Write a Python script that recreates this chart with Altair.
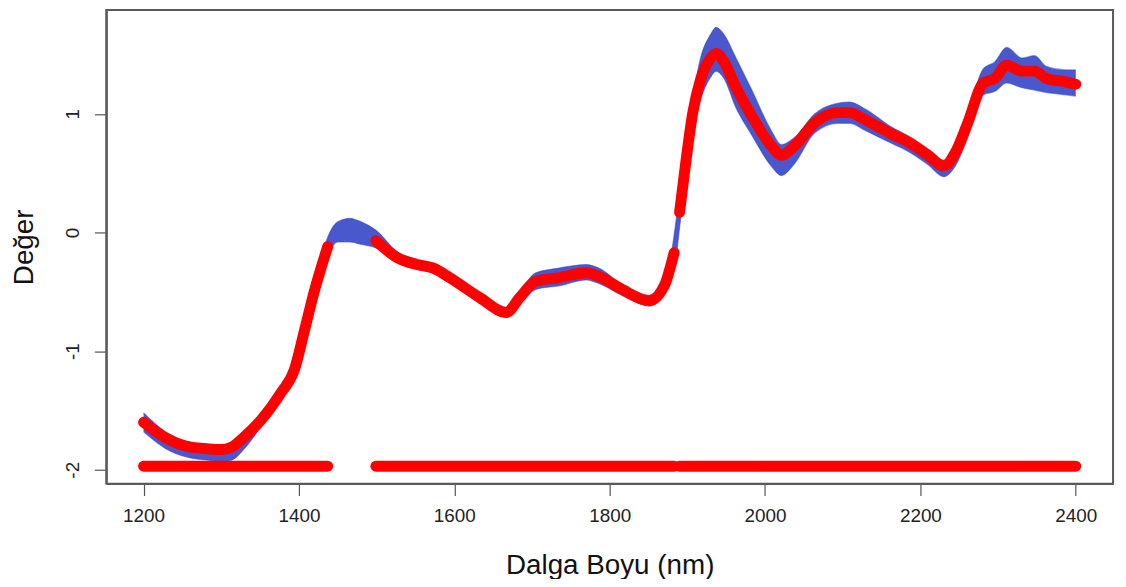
import altair as alt
import pandas as pd

# Wavelengths (nm) at which the curves were read
wavelength = [1200, 1228, 1254, 1284, 1300, 1313, 1330, 1352, 1377, 1394, 1407, 1420, 1437,
              1450, 1465, 1480, 1499, 1526, 1552, 1573, 1594, 1633, 1667, 1684, 1705, 1735,
              1770, 1786, 1816, 1851, 1871, 1879, 1883, 1890, 1897, 1907, 1917, 1930, 1937,
              1947, 1962, 1983, 2008, 2021, 2038, 2064, 2094, 2109, 2129, 2160, 2185, 2210,
              2230, 2245, 2261, 2281, 2296, 2311, 2331, 2347, 2362, 2387, 2400]

# Mean spectrum (red)
mean_value = [-1.60, -1.73, -1.80, -1.825, -1.83, -1.81, -1.72, -1.575, -1.35, -1.16, -0.83, -0.49, -0.12,
              0.00, 0.03, -0.01, -0.07, -0.21, -0.27, -0.30, -0.38, -0.55, -0.675, -0.55, -0.41, -0.38,
              -0.34, -0.37, -0.48, -0.575, -0.44, -0.27, -0.17, 0.17, 0.54, 1.01, 1.29, 1.47, 1.51,
              1.44, 1.23, 0.98, 0.73, 0.65, 0.73, 0.925, 1.01, 1.01, 0.95, 0.84, 0.76, 0.65,
              0.56, 0.675, 0.925, 1.26, 1.30, 1.41, 1.36, 1.36, 1.30, 1.27, 1.25]

# Upper and lower envelopes of the individual spectra (blue)
upper_value = [-1.52, -1.68, -1.76, -1.79, -1.80, -1.78, -1.68, -1.54, -1.32, -1.13, -0.79, -0.45, -0.04,
               0.09, 0.12, 0.09, 0.02, -0.16, -0.23, -0.26, -0.34, -0.51, -0.64, -0.50, -0.34, -0.30,
               -0.27, -0.30, -0.44, -0.53, -0.41, -0.20, -0.02, 0.32, 0.62, 1.12, 1.47, 1.67, 1.73,
               1.67, 1.48, 1.20, 0.86, 0.74, 0.80, 1.00, 1.09, 1.10, 1.04, 0.90, 0.81, 0.70,
               0.61, 0.72, 1.00, 1.38, 1.44, 1.56, 1.47, 1.49, 1.40, 1.37, 1.37]
lower_value = [-1.68, -1.82, -1.89, -1.92, -1.93, -1.92, -1.82, -1.63, -1.40, -1.20, -0.87, -0.54, -0.19,
               -0.08, -0.08, -0.10, -0.13, -0.25, -0.31, -0.34, -0.42, -0.59, -0.71, -0.60, -0.48, -0.45,
               -0.40, -0.43, -0.53, -0.62, -0.49, -0.30, -0.30, 0.04, 0.42, 0.86, 1.12, 1.31, 1.36,
               1.30, 1.06, 0.82, 0.56, 0.48, 0.58, 0.84, 0.92, 0.92, 0.86, 0.76, 0.68, 0.57,
               0.47, 0.56, 0.80, 1.16, 1.19, 1.26, 1.22, 1.20, 1.18, 1.16, 1.15]

# Selected wavelength ranges (red)
range_start = [1200, 1499, 1890]
range_end = [1437, 1883, 2400]
baseline_y = -1.97

x_ticks = [1200, 1400, 1600, 1800, 2000, 2200, 2400]
y_ticks = [-2, -1, 0, 1]

df = pd.DataFrame({"wl": wavelength, "mean": mean_value, "upper": upper_value, "lower": lower_value})
parts = []
for i, (a, b) in enumerate(zip(range_start, range_end)):
    sub = df[(df["wl"] >= a) & (df["wl"] <= b)].copy()
    sub["seg"] = i
    parts.append(sub)
red_df = pd.concat(parts)
bottom_df = pd.DataFrame({"start": range_start, "end": range_end, "y": [baseline_y] * len(range_start)})

FONT = "Liberation Sans"
FRAME = "#5a5a5a"
xs = alt.Scale(domain=[1152, 2448], nice=False, zero=False)
ys = alt.Scale(domain=[-2.117, 1.875], nice=False, zero=False)
x_axis = alt.Axis(values=x_ticks, title="Dalga Boyu (nm)", grid=False,
                  domain=True, domainColor=FRAME, domainWidth=2,
                  labelExpr="'' + datum.value",
                  tickSize=12, tickColor="#555555", tickWidth=1.2, labelFontSize=19,
                  labelPadding=11, labelColor="#222222", labelFlush=False, labelFont=FONT,
                  titleFont=FONT, titleFontSize=28, titleFontWeight="normal", titlePadding=27,
                  titleColor="#111111")
y_axis = alt.Axis(values=y_ticks, title="Değer", grid=False,
                  domain=True, domainColor=FRAME, domainWidth=2,
                  labelExpr="'' + datum.value",
                  tickSize=12, tickColor="#555555", tickWidth=1.2, labelFontSize=19,
                  labelAngle=270, labelAlign="center", labelBaseline="bottom",
                  labelPadding=12, labelColor="#222222", labelFont=FONT,
                  titleFont=FONT, titleFontSize=28, titleFontWeight="normal", titlePadding=25,
                  titleColor="#111111")

BLUE = "#3646c8"

band = alt.Chart(df).mark_area(color=BLUE, opacity=0.9, interpolate="monotone").encode(
    x=alt.X("wl:Q", scale=xs, axis=x_axis),
    y=alt.Y("lower:Q", scale=ys, axis=y_axis),
    y2="upper:Q",
)
up_line = alt.Chart(df).mark_line(color=BLUE, opacity=0.55, strokeWidth=1.2, interpolate="monotone").encode(
    x=alt.X("wl:Q", scale=xs, axis=x_axis),
    y=alt.Y("upper:Q", scale=ys, axis=y_axis),
)
lo_line = alt.Chart(df).mark_line(color=BLUE, opacity=0.55, strokeWidth=1.2, interpolate="monotone").encode(
    x=alt.X("wl:Q", scale=xs, axis=x_axis),
    y=alt.Y("lower:Q", scale=ys, axis=y_axis),
)
red_line = alt.Chart(red_df).mark_line(color="#ff0000", strokeWidth=11, strokeCap="round",
                                       strokeJoin="round", interpolate="monotone").encode(
    x=alt.X("wl:Q", scale=xs, axis=x_axis),
    y=alt.Y("mean:Q", scale=ys, axis=y_axis),
    detail="seg:N",
)
bottom = alt.Chart(bottom_df).mark_rule(color="#ff0000", strokeWidth=11, strokeCap="round").encode(
    x=alt.X("start:Q", scale=xs, axis=x_axis),
    x2="end:Q",
    y=alt.Y("y:Q", scale=ys, axis=y_axis),
)

chart = alt.layer(band, up_line, lo_line, red_line, bottom).properties(
    width=1014, height=477,
    autosize=alt.AutoSizeParams(type="none"),
    padding={"left": 99, "top": 0, "right": 5, "bottom": 94},
    view=alt.ViewBackground(stroke=FRAME, strokeWidth=2, fill="white"),
).configure_view(stroke=FRAME, strokeWidth=2).configure(background="white")

chart.save("out.html", embed_options={"renderer": "svg", "actions": False})
